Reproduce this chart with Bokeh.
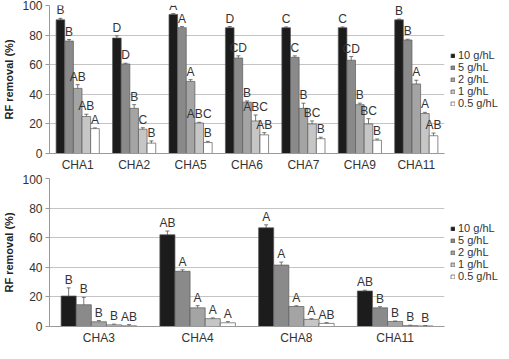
from bokeh.plotting import figure
from bokeh.models import ColumnDataSource, FactorRange, Legend, LegendItem, Whisker
from bokeh.transform import dodge
from bokeh.layouts import column
from bokeh.core.properties import value
from bokeh.embed import file_html
from bokeh.resources import INLINE

concentrations = ["10 g/hL", "5 g/hL", "2 g/hL", "1 g/hL", "0.5 g/hL"]
colors = ["#1c1c1c", "#8a8a8a", "#a4a4a4", "#c6c6c6", "#ffffff"]

# Top panel
top_cats = ["CHA1", "CHA2", "CHA5", "CHA6", "CHA7", "CHA9", "CHA11"]
top_10 = [90.3, 78.0, 94.0, 85.0, 85.0, 85.0, 90.3]
top_5 = [76.0, 60.5, 85.0, 64.5, 65.0, 63.0, 76.7]
top_2 = [44.0, 30.5, 48.7, 34.7, 30.5, 33.0, 47.0]
top_1 = [25.0, 16.4, 20.6, 22.0, 20.0, 20.0, 27.0]
top_05 = [16.8, 7.0, 7.4, 12.6, 10.0, 9.0, 12.0]
top_err_10 = [1.0, 1.5, 0.5, 0.8, 0.5, 0.5, 0.5]
top_err_5 = [1.0, 0.5, 0.8, 1.5, 1.0, 2.5, 0.5]
top_err_2 = [2.5, 2.5, 1.2, 0.8, 3.5, 1.0, 2.5]
top_err_1 = [1.5, 1.0, 0.5, 4.0, 2.0, 3.5, 0.8]
top_err_05 = [0.5, 1.5, 0.8, 1.5, 1.0, 0.8, 1.8]
top_let_10 = ["B", "D", "A", "D", "C", "C", "B"]
top_let_5 = ["B", "D", "A", "CD", "C", "CD", "B"]
top_let_2 = ["AB", "B", "A", "B", "B", "B", "A"]
top_let_1 = ["AB", "C", "ABC", "ABC", "BC", "BC", "A"]
top_let_05 = ["A", "B", "B", "AB", "B", "B", "AB"]

# Bottom panel
bot_cats = ["CHA3", "CHA4", "CHA8", "CHA11"]
bot_10 = [20.6, 62.0, 66.7, 24.0]
bot_5 = [14.7, 37.3, 41.5, 12.6]
bot_2 = [3.2, 12.6, 13.5, 3.4]
bot_1 = [1.1, 5.3, 4.8, 0.6]
bot_05 = [0.5, 2.5, 2.1, 0.4]
bot_err_10 = [5.5, 2.5, 2.0, 0.5]
bot_err_5 = [5.0, 1.0, 2.0, 0.8]
bot_err_2 = [0.8, 1.5, 0.5, 0.3]
bot_err_1 = [0.5, 0.5, 0.5, 0.3]
bot_err_05 = [0.8, 0.8, 0.5, 0.2]
bot_let_10 = ["B", "AB", "A", "AB"]
bot_let_5 = ["B", "A", "A", "B"]
bot_let_2 = ["B", "A", "A", "B"]
bot_let_1 = ["B", "A", "A", "B"]
bot_let_05 = ["AB", "A", "AB", "B"]

y_ticks = [0, 20, 40, 60, 80, 100]

FONT = "Liberation Sans"
BAR_W = 0.153
OFFSETS = [-2 * BAR_W, -BAR_W, 0.0, BAR_W, 2 * BAR_W]


def make_panel(cats, series, errs, letters, border_top):
    p = figure(x_range=FactorRange(*cats, range_padding=0), y_range=(0, 100),
               frame_width=395, frame_height=148, output_backend="svg",
               toolbar_location=None,
               min_border_left=30, min_border_top=border_top, min_border_bottom=0,
               min_border_right=0)
    p.outline_line_color = None
    p.background_fill_color = "white"
    p.border_fill_color = "white"
    items = []
    for i in range(5):
        vals = series[i]
        er = errs[i]
        src = ColumnDataSource(dict(
            cat=cats, val=vals,
            lo=[v - e for v, e in zip(vals, er)],
            hi=[v + e for v, e in zip(vals, er)],
            lab=letters[i]))
        xd = dodge("cat", OFFSETS[i], range=p.x_range)
        r = p.vbar(x=xd, top="val", width=BAR_W, source=src,
                   fill_color=colors[i], line_color="#5a5a5a", line_width=0.7)
        items.append(LegendItem(label=concentrations[i], renderers=[r]))
        w = Whisker(base=xd, lower="lo", upper="hi", source=src,
                    line_color="#555555", line_width=0.8)
        w.upper_head.size = 4
        w.lower_head.size = 4
        w.upper_head.line_color = "#555555"
        w.lower_head.line_color = "#555555"
        w.upper_head.line_width = 0.8
        w.lower_head.line_width = 0.8
        p.add_layout(w)
        p.text(x=xd, y="hi", text="lab", source=src, text_align="center",
               text_baseline="bottom", y_offset=-1,
               text_font=value(FONT), text_font_size="12px", text_color="#333333")

    p.yaxis.ticker = y_ticks
    p.yaxis.axis_label = "RF removal (%)"
    p.yaxis.axis_label_text_font = FONT
    p.yaxis.axis_label_text_font_style = "bold"
    p.yaxis.axis_label_text_font_size = "11px"
    p.yaxis.axis_label_text_color = "#222222"
    p.yaxis.axis_label_standoff = 4
    p.yaxis.major_label_text_font = FONT
    p.yaxis.major_label_text_font_size = "12px"
    p.yaxis.major_label_text_color = "#333333"
    p.yaxis.axis_line_color = "#999999"
    p.yaxis.major_tick_line_color = "#999999"
    p.yaxis.major_tick_out = 4
    p.yaxis.major_tick_in = 0
    p.yaxis.minor_tick_line_color = None
    p.yaxis.major_label_standoff = 3

    p.xaxis.major_label_text_font = FONT
    p.xaxis.major_label_text_font_size = "12px"
    p.xaxis.major_label_text_color = "#333333"
    p.xaxis.axis_line_color = "#999999"
    p.xaxis.major_tick_line_color = None
    p.xaxis.major_tick_out = 0
    p.xaxis.major_label_standoff = 4

    p.xgrid.grid_line_color = None
    p.ygrid.grid_line_color = "#c4c4c4"
    p.ygrid.grid_line_width = 1

    legend = Legend(items=items, orientation="vertical", location="left",
                    label_text_font=FONT, label_text_font_size="11px",
                    label_text_color="#333333", glyph_width=5, glyph_height=5,
                    label_height=12, label_standoff=3, spacing=0, padding=0,
                    margin=6, border_line_color=None, background_fill_alpha=0)
    p.add_layout(legend, "right")
    return p


top = make_panel(top_cats, [top_10, top_5, top_2, top_1, top_05],
                 [top_err_10, top_err_5, top_err_2, top_err_1, top_err_05],
                 [top_let_10, top_let_5, top_let_2, top_let_1, top_let_05],
                 border_top=5)
bot = make_panel(bot_cats, [bot_10, bot_5, bot_2, bot_1, bot_05],
                 [bot_err_10, bot_err_5, bot_err_2, bot_err_1, bot_err_05],
                 [bot_let_10, bot_let_5, bot_let_2, bot_let_1, bot_let_05],
                 border_top=4)

layout = column(top, bot, spacing=0)
open("out.html", "w").write(file_html(layout, INLINE))
